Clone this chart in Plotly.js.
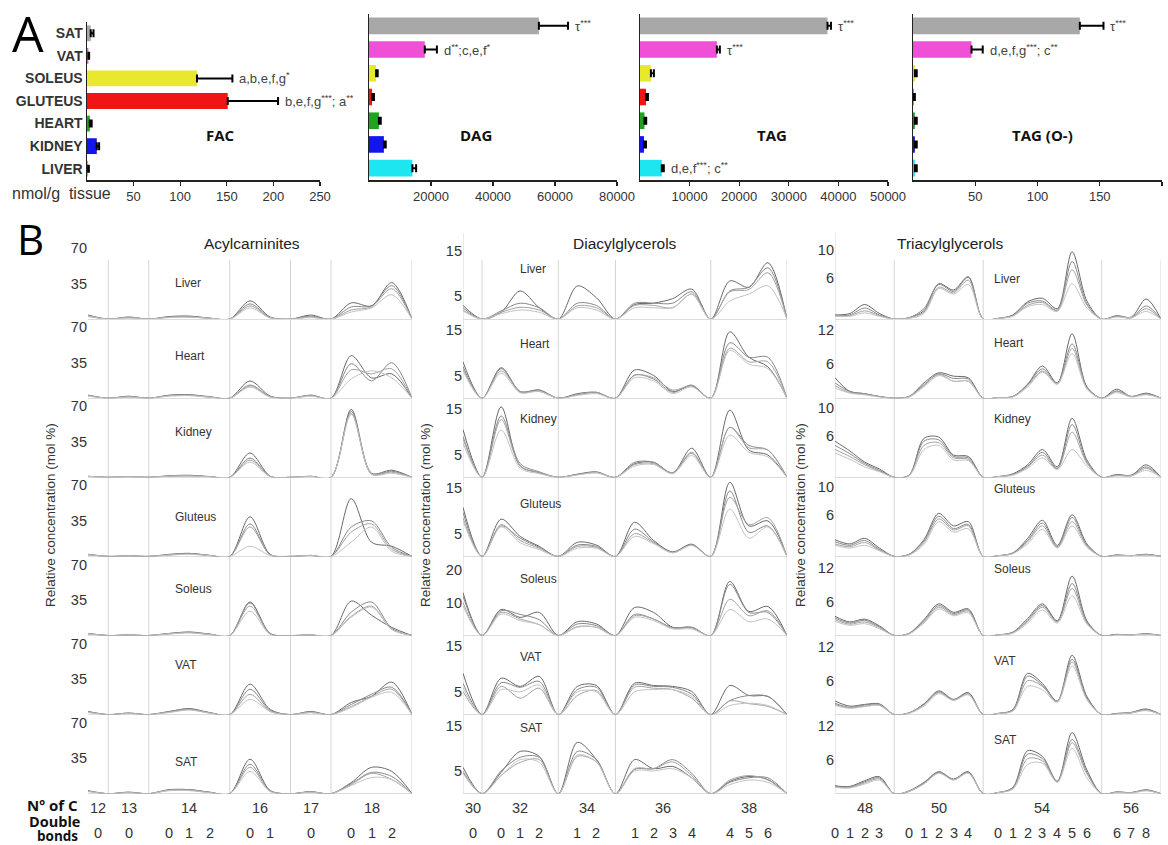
<!DOCTYPE html>
<html><head><meta charset="utf-8">
<script src="https://cdn.plot.ly/plotly-3.0.1.min.js"></script>
<style>html,body{margin:0;padding:0;background:#fff}#fig{width:1168px;height:845px}</style>
</head><body><div id="fig"></div>
<script>
// ---------- Panel A: lipid class totals per tissue (nmol/g tissue) ----------
const tissues = ['LIVER', 'KIDNEY', 'HEART', 'GLUTEUS', 'SOLEUS', 'VAT', 'SAT'];
const tissueColors = ['#1ee6f0', '#1414ee', '#21a321', '#f01414', '#e8e82c', '#f04fd8', '#a8a8a8'];

const facMean = [1.2, 10.5, 3, 151, 118, 1.5, 4];
const facErr  = [0.8, 2.5, 2, 54, 38, 0.8, 3];
const dagMean = [14000, 4800, 3200, 1000, 2300, 18000, 54800];
const dagErr  = [1200, 600, 600, 600, 500, 3900, 9400];
const tagMean = [4400, 800, 900, 1200, 2200, 15500, 37800];
const tagErr  = [400, 400, 350, 400, 600, 600, 700];
const tagoMean = [1.5, 1.5, 1.5, 0.5, 1.5, 47, 134];
const tagoErr  = [1.5, 1.5, 1.5, 1, 1.5, 9, 19];

const facNotes  = [['SOLEUS', 'a,b,e,f,g<sup>*</sup>'], ['GLUTEUS', 'b,e,f,g<sup>***</sup>; a<sup>**</sup>']];
const dagNotes  = [['SAT', 'τ<sup>***</sup>'], ['VAT', 'd<sup>**</sup>;c,e,f<sup>*</sup>']];
const tagNotes  = [['SAT', 'τ<sup>***</sup>'], ['VAT', 'τ<sup>***</sup>'], ['LIVER', 'd,e,f<sup>***</sup>; c<sup>**</sup>']];
const tagoNotes = [['SAT', 'τ<sup>***</sup>'], ['VAT', 'd,e,f,g<sup>***</sup>; c<sup>**</sup>']];

const facTicks  = [50, 100, 150, 200, 250];
const dagTicks  = [20000, 40000, 60000, 80000];
const tagTicks  = [10000, 20000, 30000, 40000, 50000];
const tagoTicks = [50, 100, 150, 200];

// ---------- Panel B: species profiles (mol %), one array per subject ----------
const acylGroups = [['12', ['0']], ['13', ['0']], ['14', ['0', '1', '2']], ['16', ['0', '1']], ['17', ['0']], ['18', ['0', '1', '2']]];
const dagGroups  = [['30', ['0']], ['32', ['0', '1', '2']], ['34', ['1', '2']], ['36', ['1', '2', '3', '4']], ['38', ['4', '5', '6']]];
const tagGroups  = [['48', ['0', '1', '2', '3']], ['50', ['0', '1', '2', '3', '4']], ['54', ['0', '1', '2', '3', '4', '5', '6']], ['56', ['6', '7', '8']]];

// Acylcarnitines: 12:0 13:0 14:0 14:1 14:2 16:0 16:1 17:0 18:0 18:1 18:2
const acylLiver = [
  [4, 2, 2.5, 3, 1, 18, 2, 4, 16, 13, 36],
  [3, 1.5, 2, 2.5, 1, 15, 1.5, 3, 12, 13, 33],
  [3.5, 2, 2, 2, 0.8, 13, 1.5, 2, 9, 12, 30],
  [2.5, 1, 1.5, 2, 0.8, 11, 1, 1.5, 7, 11, 24]];
const acylHeart = [
  [3, 2, 3, 3.5, 1.5, 17, 2, 3, 42, 20, 24],
  [2.5, 1.5, 2.5, 3, 1.2, 13, 1.5, 2.5, 34, 17, 35],
  [3, 1.5, 2.5, 3, 1, 12, 1.5, 3, 28, 24, 29],
  [2, 1, 2, 2.5, 1, 11, 1, 2, 19, 27, 20]];
const acylKidney = [
  [1, 0.5, 1.5, 2, 0.8, 24, 1, 1, 67, 4, 7],
  [1, 0.5, 1.2, 1.5, 0.6, 19, 0.8, 1, 65, 3, 6],
  [0.8, 0.4, 1, 1.5, 0.5, 17, 0.8, 0.8, 63, 3.5, 5],
  [0.8, 0.4, 1, 1.2, 0.5, 15, 0.6, 0.8, 62, 3, 4]];
const acylGluteus = [
  [2, 0.5, 2, 3, 1, 39, 2, 1, 57, 14, 10],
  [2, 0.5, 1.5, 3, 1, 32, 1.5, 1, 29, 35, 9],
  [1.5, 0.5, 1.5, 2.5, 0.8, 29, 1.5, 0.8, 24, 32, 7],
  [1.5, 0.4, 1.2, 2, 0.8, 10, 1, 0.8, 14, 29, 5]];
const acylSoleus = [
  [2, 0.5, 2, 3.5, 1.5, 33, 2, 0.5, 34, 20, 8],
  [2, 0.5, 2, 3, 1.2, 32, 1.5, 0.5, 23, 33, 7],
  [1.5, 0.4, 1.5, 3, 1, 29, 1.5, 0.5, 19, 29, 6],
  [1.5, 0.4, 1.5, 2.5, 1, 24, 1, 0.4, 18, 28, 6]];
const acylVAT = [
  [3, 1.5, 3, 6, 2, 30, 5, 3, 12, 18, 32],
  [3, 1.5, 3, 5.5, 2, 25, 4, 3, 10, 20, 27],
  [2.5, 1, 2.5, 5, 1.5, 20, 3, 2, 8, 18, 25],
  [2, 1, 2, 4.5, 1.5, 15, 3, 2, 7, 17, 22]];
const acylSAT = [
  [3, 1.5, 4, 4, 1.5, 34, 3, 2, 11, 26, 22],
  [2.5, 1.5, 3.5, 4, 1.5, 29, 3, 2, 10, 21, 17],
  [2.5, 1, 3.5, 3.5, 1.2, 26, 2.5, 1.5, 9, 20, 14],
  [2, 1, 3, 3, 1, 22, 2, 1.5, 8, 16, 14]];

// Diacylglycerols: 30:0 32:0 32:1 32:2 34:1 34:2 36:1 36:2 36:3 36:4 38:4 38:5 38:6
const dagLiver = [
  [3, 1.5, 6.2, 2.5, 7.3, 4.7, 3.2, 3.5, 4.5, 6.6, 8.4, 7, 12.4],
  [2.5, 1.8, 3.5, 2.5, 3.5, 3, 3.5, 3.5, 3.5, 6, 6.2, 7, 11.3],
  [2, 1.5, 2.6, 2, 2.9, 2.5, 3, 3, 2.5, 5.5, 6, 6.5, 10.2],
  [1.8, 1.2, 2, 1.5, 2.5, 2, 2.5, 2.5, 2.5, 5.5, 4, 5.5, 7.3]];
const dagHeart = [
  [8, 6.7, 1.5, 1.8, 1, 1.3, 6.2, 5, 1.5, 2.7, 14.6, 9, 6.9],
  [7, 6.5, 1.3, 1.8, 0.8, 1.2, 5.1, 4.2, 1.3, 2.9, 12.2, 9, 9],
  [6.5, 6, 1.5, 1.5, 0.8, 1.3, 5, 4.5, 1.8, 2.7, 11, 8, 8],
  [6, 5.5, 1.2, 1.5, 0.6, 1, 4.5, 3.8, 1, 2.5, 10.5, 7.5, 6.5]];
const dagKidney = [
  [10.5, 15.5, 2.5, 1, 0.7, 1.2, 3, 3.3, 1, 6.4, 14.8, 6, 4.9],
  [9, 13.5, 3, 1.2, 0.6, 1.1, 3.3, 3.3, 0.9, 5.3, 11, 7, 6],
  [8.5, 12.7, 2.5, 1, 0.6, 1, 2.8, 3, 1, 5.5, 11, 6.5, 6],
  [7.5, 10.4, 2, 0.8, 0.5, 1, 2.5, 2.8, 0.8, 4.8, 9.3, 5.5, 4.5]];
const dagGluteus = [
  [10.8, 8.2, 4.4, 2.2, 3.1, 2.5, 7.5, 3.5, 1, 2.7, 16.3, 6.7, 7.8],
  [9.7, 6.7, 4, 2, 2.5, 2.2, 6, 3.2, 0.9, 2.6, 14.4, 5.3, 6.7],
  [8.5, 7, 3.5, 1.8, 2.2, 2, 5, 3, 0.8, 2.5, 13, 7, 8.5],
  [7.8, 6.5, 3, 1.5, 1.8, 1.8, 4.4, 2.8, 0.8, 2.4, 10.4, 4, 6.5]];
const dagSoleus = [
  [13, 7.9, 5.5, 7, 4.2, 3.5, 8.5, 7, 2.5, 2.5, 16.4, 7.3, 8.8],
  [12, 7.5, 6.4, 4.8, 3.5, 3, 6.4, 5, 2.4, 2.5, 15.5, 7, 7],
  [10, 7, 5, 3.3, 2.7, 2.5, 6, 5, 2.2, 2.3, 11, 6, 7.5],
  [9, 6.5, 4.5, 3.3, 2.5, 2.5, 5.5, 4.5, 2, 2, 7.9, 4.2, 5]];
const dagVAT = [
  [9.1, 8, 6.2, 8.4, 6.2, 6.4, 6.9, 6.4, 6.2, 5.1, 6.4, 4.2, 4],
  [6.9, 7, 6, 7.3, 5.5, 6, 6.5, 6.2, 6, 4.5, 3.1, 4.2, 4],
  [5.1, 6.2, 3.6, 5.8, 4.2, 5.3, 6, 5.8, 5.5, 3.6, 3, 2.4, 1.8],
  [6, 5.5, 5, 6.5, 5, 5, 5, 5.5, 5.5, 4, 2, 2.5, 2]];
const dagSAT = [
  [5.8, 4.7, 9.3, 8.2, 11.3, 7.5, 7.5, 5.5, 6, 3.5, 2.7, 3.8, 3.1],
  [4.7, 5, 8, 8, 9.3, 7.5, 5.3, 5.5, 7.5, 4.5, 2.5, 3.5, 3.5],
  [5, 4, 6.9, 7.5, 8.2, 7, 5.5, 5.5, 7, 4, 3, 4, 3],
  [4.5, 4, 7.5, 6.9, 8.5, 7, 5, 5, 5.5, 3.5, 2, 3, 2.5]];

// Triacylglycerols: 48:0-3, 50:0-4, 54:0-6, 56:6-8
const tagLiver = [
  [0.6, 0.8, 2.1, 0.8, 0.2, 1.2, 5.1, 4.2, 6.1, 0.1, 0.6, 2.5, 3.0, 1.5, 9.7, 2.6, 0.5, 0.3, 2.9],
  [0.5, 0.6, 1.6, 0.6, 0.2, 1.5, 5.0, 4.0, 6.0, 0.1, 0.5, 2.3, 2.6, 1.3, 8.3, 2.2, 0.4, 0.2, 1.9],
  [0.5, 0.5, 1.2, 0.5, 0.2, 1.0, 4.6, 3.8, 5.6, 0.1, 0.5, 2.0, 2.4, 1.2, 7.1, 2.0, 0.4, 0.2, 1.5],
  [0.4, 0.4, 0.9, 0.4, 0.1, 0.8, 4.4, 3.6, 5.0, 0.1, 0.4, 1.8, 2.1, 1.1, 5.1, 1.6, 0.3, 0.2, 1.1]];
const tagHeart = [
  [3.6, 1.2, 0.8, 0.3, 0.3, 2.7, 4.5, 3.9, 3.6, 0.1, 0.3, 2.5, 5.7, 2.7, 11.4, 2.0, 1.6, 0.3, 0.9],
  [2.7, 1.2, 0.8, 0.3, 0.3, 2.4, 4.3, 3.5, 3.4, 0.1, 0.3, 2.4, 5.2, 2.7, 9.6, 2.0, 1.3, 0.3, 0.8],
  [2.2, 1.0, 0.7, 0.3, 0.3, 2.2, 4.2, 3.0, 3.0, 0.1, 0.3, 2.2, 4.8, 2.5, 8.8, 1.8, 1.2, 0.3, 0.7],
  [1.8, 0.9, 0.6, 0.2, 0.2, 2.0, 4.0, 3.0, 3.0, 0.1, 0.2, 2.0, 4.6, 2.5, 7.9, 1.6, 1.0, 0.2, 0.6]];
const tagKidney = [
  [5.2, 3.8, 2.2, 1.2, 0.3, 5.6, 5.8, 3.2, 3.0, 0.1, 0.5, 1.8, 4.0, 1.5, 8.5, 2.5, 0.4, 0.3, 1.8],
  [4.6, 3.4, 2.0, 1.0, 0.3, 5.2, 5.4, 3.0, 2.8, 0.1, 0.4, 1.6, 3.6, 1.3, 7.6, 2.2, 0.3, 0.3, 1.5],
  [4.0, 3.0, 1.8, 0.9, 0.3, 4.6, 5.0, 2.8, 2.6, 0.1, 0.4, 1.5, 3.2, 1.2, 6.5, 2.0, 0.3, 0.2, 1.3],
  [3.5, 2.6, 1.5, 0.8, 0.2, 4.0, 4.6, 2.5, 2.4, 0.1, 0.3, 1.3, 2.8, 1.1, 4.0, 1.6, 0.2, 0.2, 1.0]];
const tagGluteus = [
  [2.4, 1.8, 2.6, 1.2, 0.3, 2.4, 6.2, 4.4, 5.0, 0.1, 0.5, 2.6, 5.2, 1.6, 6.0, 1.8, 0.2, 0.1, 0.3],
  [2.1, 1.6, 2.3, 1.0, 0.3, 2.2, 5.8, 4.0, 4.6, 0.1, 0.5, 2.3, 4.8, 1.4, 5.6, 1.6, 0.2, 0.1, 0.3],
  [1.8, 1.4, 2.0, 0.9, 0.2, 2.0, 5.4, 3.8, 4.4, 0.1, 0.4, 2.1, 4.4, 1.3, 5.0, 1.5, 0.1, 0.1, 0.2],
  [1.6, 1.2, 1.6, 0.8, 0.2, 1.7, 5.0, 3.5, 4.0, 0.1, 0.4, 1.8, 3.9, 1.2, 4.4, 1.3, 0.1, 0.1, 0.2]];
const tagSoleus = [
  [3.4, 2.4, 2.9, 1.7, 0.4, 2.8, 5.6, 4.1, 4.7, 0.1, 0.6, 3.0, 5.6, 2.6, 10.5, 2.6, 0.2, 0.1, 0.3],
  [3.1, 2.2, 2.7, 1.5, 0.3, 2.6, 5.3, 3.9, 4.5, 0.1, 0.5, 2.7, 5.3, 2.5, 9.2, 2.4, 0.2, 0.1, 0.3],
  [2.8, 2.0, 2.4, 1.4, 0.3, 2.4, 5.0, 3.7, 4.3, 0.1, 0.5, 2.5, 5.0, 2.4, 8.3, 2.2, 0.1, 0.1, 0.2],
  [2.5, 1.8, 2.1, 1.2, 0.3, 2.2, 4.7, 3.5, 4.0, 0.1, 0.4, 2.2, 4.5, 2.2, 7.0, 2.0, 0.1, 0.1, 0.2]];
const tagVAT = [
  [2.4, 1.5, 1.8, 1.9, 0.3, 1.9, 4.2, 2.7, 3.9, 0.2, 0.9, 7.3, 5.5, 2.4, 10.5, 3.2, 0.2, 0.4, 1.0],
  [2.0, 1.3, 1.7, 1.8, 0.3, 1.8, 4.0, 2.6, 3.8, 0.2, 0.8, 6.8, 5.2, 2.3, 9.8, 3.0, 0.2, 0.3, 0.9],
  [1.8, 1.2, 1.5, 1.7, 0.3, 1.7, 3.9, 2.6, 3.6, 0.2, 0.7, 6.0, 5.0, 2.3, 9.3, 2.8, 0.1, 0.3, 0.8],
  [1.6, 1.1, 1.4, 1.6, 0.2, 1.5, 3.7, 2.5, 3.5, 0.2, 0.6, 5.0, 4.4, 2.2, 8.6, 2.6, 0.1, 0.3, 0.7]];
const tagSAT = [
  [1.4, 1.3, 2.3, 3.0, 0.5, 2.0, 3.9, 2.6, 3.9, 0.2, 1.1, 7.6, 6.6, 2.2, 10.8, 4.2, 0.3, 0.2, 0.7],
  [1.3, 1.2, 2.1, 2.8, 0.4, 1.9, 3.8, 2.5, 3.8, 0.2, 1.0, 7.0, 6.2, 2.2, 9.6, 3.8, 0.3, 0.2, 0.6],
  [1.2, 1.1, 1.9, 2.6, 0.4, 1.8, 3.7, 2.5, 3.7, 0.2, 0.9, 6.2, 5.8, 2.1, 9.0, 3.5, 0.2, 0.2, 0.6],
  [1.1, 1.0, 1.7, 2.4, 0.4, 1.7, 3.6, 2.4, 3.6, 0.2, 0.8, 5.2, 5.4, 2.0, 8.0, 2.8, 0.2, 0.1, 0.5]];

const rowNames = ['Liver', 'Heart', 'Kidney', 'Gluteus', 'Soleus', 'VAT', 'SAT'];

// ---------- page geometry helpers ----------
const W = 1168, H = 845;
const fx = p => p / W;
const fy = p => 1 - p / H;
const FONT = 'Liberation Sans, Arial, sans-serif';
const BOLD = 'Open Sans, Liberation Sans, sans-serif';

const traces = [];
const layout = {
  width: W, height: H, margin: {l: 0, r: 0, t: 0, b: 0},
  paper_bgcolor: '#fff', plot_bgcolor: 'rgba(0,0,0,0)',
  showlegend: false, annotations: [], shapes: [],
  font: {family: FONT, color: '#333'}
};
const ann = a => layout.annotations.push(Object.assign({
  showarrow: false, xanchor: 'center', yanchor: 'middle',
  font: {family: FONT, size: 13, color: '#333'}}, a));

// ---------- Panel A ----------
const panelA = [
  {label: 'FAC', mean: facMean, err: facErr, ticks: facTicks, max: 250, left: 87, right: 320, top: 22, notes: facNotes, labelX: 220},
  {label: 'DAG', mean: dagMean, err: dagErr, ticks: dagTicks, max: 80000, left: 369, right: 617, top: 14, notes: dagNotes, labelX: 476},
  {label: 'TAG', mean: tagMean, err: tagErr, ticks: tagTicks, max: 50000, left: 640, right: 888, top: 14, notes: tagNotes, labelX: 772},
  {label: 'TAG (O-)', mean: tagoMean, err: tagoErr, ticks: tagoTicks, max: 200, left: 913, right: 1162, top: 14, notes: tagoNotes, labelX: 1042}
];
panelA.forEach((p, i) => {
  const n = i + 1, xa = 'x' + (n === 1 ? '' : n), ya = 'y' + (n === 1 ? '' : n);
  traces.push({
    type: 'bar', orientation: 'h', x: p.mean, y: tissues, xaxis: xa, yaxis: ya,
    width: 0.7, marker: {color: tissueColors, line: {width: 0}},
    error_x: {type: 'data', symmetric: false, array: p.err, arrayminus: p.err.map(() => 0),
              color: '#000', thickness: 2, width: 4},
    hoverinfo: 'x+y'
  });
  const xk = 'xaxis' + (n === 1 ? '' : n), yk = 'yaxis' + (n === 1 ? '' : n);
  layout[xk] = {
    domain: [fx(p.left), fx(p.right)], range: [0, p.max], anchor: ya,
    tickvals: p.ticks, ticktext: p.ticks.map(String), ticks: 'outside', ticklen: 4, tickwidth: 1.2,
    tickcolor: '#222', showline: true, linecolor: '#222', linewidth: 1.5,
    showgrid: false, zeroline: false, tickfont: {family: FONT, size: 13, color: '#333'}, fixedrange: true
  };
  layout[yk] = {
    domain: [fy(180), fy(p.top)], anchor: xa, type: 'category', categoryorder: 'array',
    categoryarray: tissues, range: [-0.5, 6.5], showline: true, linecolor: '#222', linewidth: 1.5,
    ticks: '', showgrid: false, zeroline: false, showticklabels: n === 1,
    tickfont: {family: FONT, size: 14, color: '#333', weight: 'bold'}, fixedrange: true
  };
  p.notes.forEach(([t, txt]) => {
    const k = tissues.indexOf(t);
    ann({xref: xa, yref: ya, x: p.mean[k] + p.err[k], y: t, text: txt, xanchor: 'left', xshift: 5,
         font: {family: FONT, size: 13, color: '#444'}});
  });
  ann({xref: 'paper', yref: 'paper', x: fx(p.labelX), y: fy(135), text: '<b>' + p.label + '</b>',
       font: {family: BOLD, size: 15, color: '#111'}});
});
ann({xref: 'paper', yref: 'paper', x: fx(10), y: fy(193), xanchor: 'left', text: 'nmol/g  tissue',
     font: {family: FONT, size: 16, color: '#333'}});
ann({xref: 'paper', yref: 'paper', x: fx(28), y: fy(33), text: 'A', font: {family: BOLD, size: 50, color: '#000'}});
ann({xref: 'paper', yref: 'paper', x: fx(30), y: fy(239), text: 'B', font: {family: BOLD, size: 42, color: '#000'}});

// ---------- Panel B ----------
const ROW_TOP = 240, ROW_H = 79.1, LINE_COLORS = ['#686868', '#888888', '#a3a3a3', '#c2c2c2'];
const columns = [
  {title: 'Acylcarninites', titleX: 252, groups: acylGroups, left: 88, right: 412, edgeLine: false,
   data: [acylLiver, acylHeart, acylKidney, acylGluteus, acylSoleus, acylVAT, acylSAT],
   ranges: [78, 78, 78, 78, 78, 78, 78], ticks: [[35, 70], [35, 70], [35, 70], [35, 70], [35, 70], [35, 70], [35, 70]],
   labelX: 173, labelY: [283, 356, 432, 517, 589, 665, 762], yTitleX: 50},
  {title: 'Diacylglycerols', titleX: 625, groups: dagGroups, left: 463, right: 787, edgeLine: true,
   data: [dagLiver, dagHeart, dagKidney, dagGluteus, dagSoleus, dagVAT, dagSAT],
   ranges: [17.4, 17.4, 17.4, 17.4, 24, 17.4, 17.4], ticks: [[5, 15], [5, 15], [5, 15], [5, 15], [10, 20], [5, 15], [5, 15]],
   labelX: 518, labelY: [269, 344, 419, 504, 579, 657, 728], yTitleX: 425},
  {title: 'Triacylglycerols', titleX: 950, groups: tagGroups, left: 835, right: 1161, edgeLine: true,
   data: [tagLiver, tagHeart, tagKidney, tagGluteus, tagSoleus, tagVAT, tagSAT],
   ranges: [11.4, 14, 11.4, 11.4, 14, 14, 14], ticks: [[6, 10], [6, 12], [6, 10], [6, 10], [6, 12], [6, 12], [6, 12]],
   labelX: 992, labelY: [279, 343, 419, 489, 569, 661, 740], yTitleX: 800}
];

let axisNo = 5;
columns.forEach((col, ci) => {
  // x layout: each carbon group holds its species between two zero-valued boundaries
  let cursor = 0;
  const bounds = [0], speciesX = [];
  col.groups.forEach(g => {
    const n = g[1].length;
    speciesX.push(g[1].map((_, k) => cursor + k + 1));
    cursor += n + 1;
    bounds.push(cursor);
  });
  const xStart = 1, xEnd = cursor;
  const xName = 'x' + (5 + ci), xKey = 'xaxis' + (5 + ci);
  const bottomY = ROW_TOP + 7 * ROW_H;

  const rowAxes = [];
  for (let r = 0; r < 7; r++) {
    const yNum = axisNo++;
    const yName = 'y' + yNum, yKey = 'yaxis' + yNum;
    rowAxes.push(yName);
    const top = ROW_TOP + r * ROW_H, bot = top + ROW_H;
    layout[yKey] = {
      domain: [fy(bot), fy(top)], range: [0, col.ranges[r]], anchor: xName,
      tickvals: col.ticks[r], ticks: '', showline: false, showgrid: false,
      zeroline: true, zerolinecolor: '#dcdcdc', zerolinewidth: 1,
      tickfont: {family: FONT, size: 14.5, color: '#333'}, fixedrange: true
    };
    col.data[r].forEach((vals, li) => {
      const xs = [], ys = [];
      let k = 0;
      col.groups.forEach((g, gi) => {
        if (gi > 0) { xs.push(bounds[gi]); ys.push(0); }
        speciesX[gi].forEach(x => { xs.push(x); ys.push(vals[k++]); });
      });
      xs.push(xEnd); ys.push(0);
      traces.push({
        type: 'scatter', mode: 'lines', x: xs, y: ys, xaxis: xName, yaxis: yName,
        line: {color: LINE_COLORS[li], width: 1, shape: 'spline', smoothing: 0.9},
        hoverinfo: 'y'
      });
    });
    ann({xref: 'paper', yref: 'paper', x: fx(col.labelX), y: fy(col.labelY[r]), xanchor: 'left',
         text: rowNames[r], font: {family: FONT, size: 12, color: '#333'}});
  }
  layout[xKey] = {
    domain: [fx(col.left), fx(col.right)], range: [xStart, xEnd], anchor: rowAxes[6],
    visible: false, fixedrange: true
  };

  // vertical separators between carbon groups
  bounds.slice(1).forEach(b => {
    layout.shapes.push({type: 'line', xref: xName, yref: 'paper', x0: b, x1: b, y0: fy(bottomY), y1: fy(260),
                        line: {color: '#d4d4d4', width: 1}, layer: 'below'});
  });
  if (col.edgeLine) {
    layout.shapes.push({type: 'line', xref: xName, yref: 'paper', x0: xStart, x1: xStart, y0: fy(bottomY), y1: fy(233),
                        line: {color: '#d4d4d4', width: 1}, layer: 'below'});
  }

  // column title and y title
  ann({xref: 'paper', yref: 'paper', x: fx(col.titleX), y: fy(243), text: col.title,
       font: {family: FONT, size: 15.5, color: '#222'}});
  ann({xref: 'paper', yref: 'paper', x: fx(col.yTitleX), y: fy(515), text: 'Relative concentration (mol %)',
       textangle: -90, font: {family: FONT, size: 13.5, color: '#333'}});

  // carbon number and double bond labels
  col.groups.forEach((g, gi) => {
    const lo = gi === 0 ? xStart : bounds[gi];
    const hi = bounds[gi + 1];
    ann({xref: xName, yref: 'paper', x: (lo + hi) / 2, y: fy(808), text: g[0],
         font: {family: FONT, size: 14.5, color: '#333'}});
    g[1].forEach((db, k) => {
      const x = (gi === 0 && g[1].length === 1) ? (lo + hi) / 2 : speciesX[gi][k];
      ann({xref: xName, yref: 'paper', x: x, y: fy(833), text: db,
           font: {family: FONT, size: 14.5, color: '#333'}});
    });
  });
});

ann({xref: 'paper', yref: 'paper', x: fx(80), y: fy(805), xanchor: 'right', text: '<b>Nº of C</b>',
     font: {family: BOLD, size: 15, color: '#111'}});
ann({xref: 'paper', yref: 'paper', x: fx(82), y: fy(821), xanchor: 'right', text: '<b>Double</b>',
     font: {family: BOLD, size: 14.5, color: '#111'}});
ann({xref: 'paper', yref: 'paper', x: fx(80), y: fy(836), xanchor: 'right', text: '<b>bonds</b>',
     font: {family: BOLD, size: 13.5, color: '#111'}});

Plotly.newPlot('fig', traces, layout, {staticPlot: true, displayModeBar: false});
</script></body></html>
